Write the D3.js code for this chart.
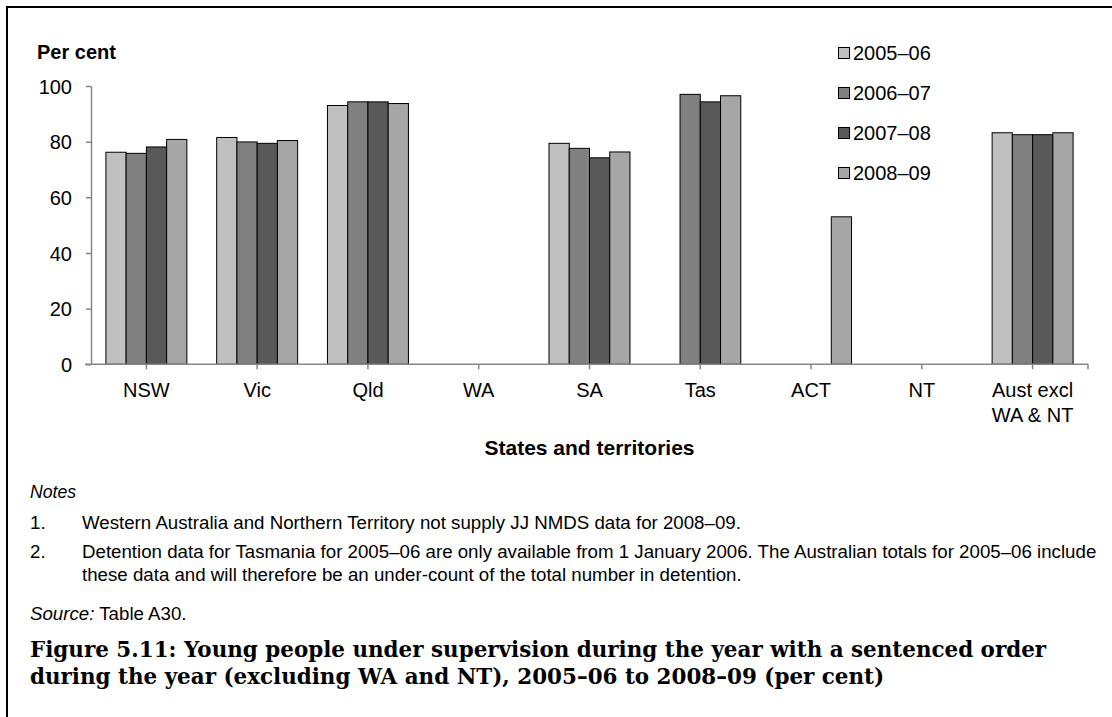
<!DOCTYPE html>
<html>
<head>
<meta charset="utf-8">
<script src="https://cdn.jsdelivr.net/npm/d3@7"></script>
<style>
  html, body { margin: 0; padding: 0; background: #fff; }
  svg { display: block; }
</style>
</head>
<body>
<svg id="chart" width="1112" height="717"></svg>
<script>
// ---- data ----
const categories = ["NSW", "Vic", "Qld", "WA", "SA", "Tas", "ACT", "NT", "Aust excl\nWA & NT"];
const seriesNames = ["2005\u201306", "2006\u201307", "2007\u201308", "2008\u201309"];
const v2005_06 = [76.2, 81.5, 93.0, null, 79.4, null, null, null, 83.2];
const v2006_07 = [75.8, 79.9, 94.3, null, 77.6, 97.0, null, null, 82.5];
const v2007_08 = [78.1, 79.4, 94.3, null, 74.2, 94.3, null, null, 82.5];
const v2008_09 = [80.8, 80.4, 93.7, null, 76.3, 96.5, 53.0, null, 83.2];
const yTicks = [0, 20, 40, 60, 80, 100];
const seriesColors = ["#c0c0c0", "#808080", "#595959", "#a6a6a6"];
const notesLines = [
  ["1.", "Western Australia and Northern Territory not supply JJ NMDS data for 2008\u201309."],
  ["2.", "Detention data for Tasmania for 2005\u201306 are only available from 1 January 2006. The Australian totals for 2005\u201306 include"],
  ["", "these data and will therefore be an under-count of the total number in detention."]
];
const titleLines = [
  "Figure 5.11: Young people under supervision during the year with a sentenced order",
  "during the year (excluding WA and NT), 2005\u201306 to 2008\u201309 (per cent)"
];

const seriesValues = [v2005_06, v2006_07, v2007_08, v2008_09];

(function () {
const SANS = "'Liberation Sans', Arial, sans-serif";
const SERIF = "'DejaVu Serif', 'Liberation Serif', serif";
const svg = d3.select("#chart").style("font-family", SANS);

// frame
svg.append("line").attr("x1", 7).attr("x2", 1112).attr("y1", 7).attr("y2", 7)
  .attr("stroke", "#000").attr("stroke-width", 2);
svg.append("line").attr("x1", 7).attr("x2", 7).attr("y1", 6).attr("y2", 717)
  .attr("stroke", "#000").attr("stroke-width", 2);

const pLeft = 91, pRight = 1088, pTop = 86, pBottom = 364.3;

const x = d3.scaleBand().domain(categories).range([pLeft, pRight])
  .paddingInner(0.269).paddingOuter(0.1345);
const xs = d3.scaleBand().domain(d3.range(seriesNames.length)).range([0, x.bandwidth()]);
const y = d3.scaleLinear().domain([0, 100]).range([pBottom, pTop]);

const axisColor = "#868686";

// bars
const g = svg.append("g");
seriesValues.forEach((vals, si) => {
  g.selectAll(".bar" + si)
    .data(categories.map((c, i) => ({ c, v: vals[i] })).filter(d => d.v != null))
    .enter().append("rect")
    .attr("x", d => x(d.c) + xs(si))
    .attr("y", d => y(d.v))
    .attr("width", xs.bandwidth())
    .attr("height", d => y(0) - y(d.v))
    .attr("fill", seriesColors[si])
    .attr("stroke", "#000")
    .attr("stroke-width", 1);
});

// y axis
const yAxis = d3.axisLeft(y).tickValues(yTicks).tickSize(5).tickSizeOuter(0).tickPadding(14);
const yg = svg.append("g").attr("transform", `translate(${pLeft},0)`).call(yAxis);
yg.attr("font-family", null);
yg.select(".domain").attr("stroke", axisColor).attr("stroke-width", 1.5);
yg.selectAll(".tick line").attr("stroke", axisColor).attr("stroke-width", 1.5);
yg.selectAll(".tick text").style("font-size", "20px").style("font-family", SANS)
  .attr("fill", "#000").attr("dy", "0.36em");

// x axis
const xAxis = d3.axisBottom(x).tickSize(5).tickSizeOuter(0).tickFormat("");
const xg = svg.append("g").attr("transform", `translate(0,${pBottom})`).call(xAxis);
xg.select(".domain").remove();
xg.selectAll(".tick line").attr("stroke", axisColor).attr("stroke-width", 1.5);
xg.append("line").attr("x1", pLeft - 6).attr("x2", pRight).attr("y1", 0).attr("y2", 0)
  .attr("stroke", axisColor).attr("stroke-width", 1.5);
xg.append("line").attr("x1", pRight).attr("x2", pRight).attr("y1", 0).attr("y2", 5)
  .attr("stroke", axisColor).attr("stroke-width", 1.5);

// category labels
categories.forEach(c => {
  const cx = x(c) + x.bandwidth() / 2;
  const t = svg.append("text")
    .attr("x", cx)
    .attr("y", 397)
    .attr("text-anchor", "middle")
    .style("font-size", "20px");
  c.split("\n").forEach((line, i) => {
    t.append("tspan").attr("x", cx).attr("dy", i === 0 ? 0 : 24.7).text(line);
  });
});

// axis titles
svg.append("text").attr("x", 37).attr("y", 59).style("font-size", "20px").style("font-weight", "bold").text("Per cent");
svg.append("text").attr("x", (pLeft + pRight) / 2).attr("y", 455).attr("text-anchor", "middle")
  .style("font-size", "21px").style("font-weight", "bold").text("States and territories");

// legend
const lg = svg.append("g");
seriesNames.forEach((s, i) => {
  const cy = 53 + i * 40;
  lg.append("rect").attr("x", 838.5).attr("y", cy - 5.5).attr("width", 11).attr("height", 11)
    .attr("fill", seriesColors[i]).attr("stroke", "#000").attr("stroke-width", 1);
  lg.append("text").attr("x", 853).attr("y", cy + 7).style("font-size", "20px").text(s);
});

// helper: fit font size so a text spans a target width
function fitSize(sel, targetW) {
  const base = parseFloat(sel.style("font-size"));
  const w = sel.node().getComputedTextLength();
  return base * targetW / w;
}

// notes
const probe = svg.append("text").style("font-size", "16px").text(notesLines[1][1]);
const noteSize = Math.min(19, fitSize(probe, 1097 - 82));
probe.remove();

svg.append("text").attr("x", 30).attr("y", 498).style("font-size", (noteSize - 1) + "px")
  .style("font-style", "italic").text("Notes");
notesLines.forEach((l, i) => {
  const yy = [529, 558, 581][i];
  if (l[0]) svg.append("text").attr("x", 30).attr("y", yy).style("font-size", noteSize + "px").text(l[0]);
  svg.append("text").attr("x", 82).attr("y", yy).style("font-size", noteSize + "px").text(l[1]);
});
const src = svg.append("text").attr("x", 30).attr("y", 620).style("font-size", noteSize + "px");
src.append("tspan").style("font-style", "italic").text("Source:");
src.append("tspan").text(" Table A30.");

// title
const tprobe = svg.append("text").style("font-family", SERIF).style("font-weight", "bold")
  .style("font-size", "20px").text(titleLines[0]);
const titleSize = fitSize(tprobe, 1047 - 30);
tprobe.remove();
titleLines.forEach((l, i) => {
  svg.append("text").attr("x", 30).attr("y", 657 + i * 27)
    .style("font-family", SERIF)
    .style("font-weight", "bold").style("font-size", titleSize + "px").text(l);
});
})();
</script>
</body>
</html>
